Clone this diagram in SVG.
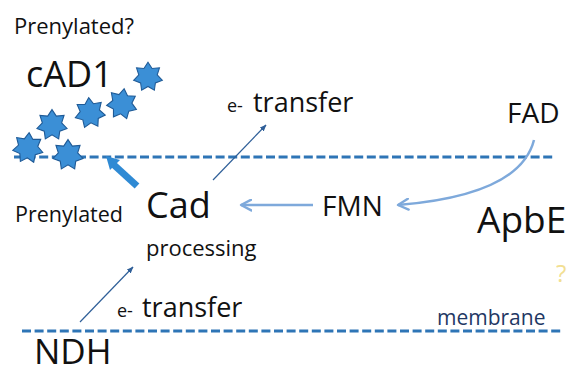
<svg xmlns="http://www.w3.org/2000/svg" width="568" height="365" viewBox="0 0 568 365">
<style>
text{font-family:"Open Sans","Noto Sans","Liberation Sans",sans-serif;fill:#111}
.mem{fill:none;stroke:#2e75b6;stroke-width:3;stroke-dasharray:9 3.6}
.star{fill:#3b8fd6;stroke:#1f5a96;stroke-width:1}
.thin{fill:none;stroke:#2f5f98;stroke-width:1.2}
.light{fill:none;stroke:#7ea9db;stroke-width:2.5}
</style>
<defs>
<path id="st" d="M0,-14 L3.91,-8.11 L10.95,-8.73 L8.77,-2 L13.65,3.12 L7.04,5.61 L6.07,12.61 L0,9 L-6.07,12.61 L-7.04,5.61 L-13.65,3.12 L-8.77,-2 L-10.95,-8.73 L-3.91,-8.11 Z"/>
<marker id="ah" viewBox="0 0 10 10" refX="9" refY="5" markerWidth="7" markerHeight="7" orient="auto" markerUnits="userSpaceOnUse">
<path d="M0,1 L10,5 L0,9 Z" fill="#2f5f98"/>
</marker>
<marker id="oh" viewBox="0 0 12 12" refX="10.5" refY="6" markerWidth="13" markerHeight="13" orient="auto" markerUnits="userSpaceOnUse">
<path d="M1,1 L10.5,6 L1,11" fill="none" stroke="#7ea9db" stroke-width="2.2" stroke-linecap="round" stroke-linejoin="round"/>
</marker>
</defs>
<rect width="568" height="365" fill="#fff"/>
<g id="membranes">
<line class="mem" x1="14" y1="157" x2="554" y2="157"/>
<line class="mem" x1="22" y1="331" x2="562" y2="331"/>
</g>
<g id="prenylated-q"><text x="14" y="34" font-size="22">Prenylated?</text></g>
<g id="cAD1">
<text x="26" y="87" font-size="36">cAD1</text>
<use href="#st" class="star" transform="translate(148,77) scale(1.05)"/>
<use href="#st" class="star" transform="translate(122,104) rotate(8) scale(1.1)"/>
<use href="#st" class="star" transform="translate(90,113) rotate(-5) scale(1.1)"/>
<use href="#st" class="star" transform="translate(52,125) scale(1.1)"/>
<use href="#st" class="star" transform="translate(28,148) rotate(4) scale(1.1)"/>
<use href="#st" class="star" transform="translate(68,155) scale(1.1)"/>
</g>
<g id="prenylated"><text x="15" y="222" font-size="21.5">Prenylated</text></g>
<g id="cad"><text x="146" y="218" font-size="36">Cad</text><text x="146" y="256" font-size="22">processing</text></g>
<g id="fmn"><text x="322" y="216" font-size="28">FMN</text></g>
<g id="fad"><text x="507" y="123" font-size="28">FAD</text></g>
<g id="apbe"><text x="477" y="233" font-size="37">ApbE</text></g>
<g id="ndh"><text x="34" y="364" font-size="35">NDH</text></g>
<g id="etransfer-top"><text x="227" y="112"><tspan font-size="18">e-</tspan><tspan x="253" font-size="27">transfer</tspan></text></g>
<g id="etransfer-bottom"><text x="117" y="317"><tspan font-size="18">e-</tspan><tspan x="142" font-size="27">transfer</tspan></text></g>
<g id="membrane-label"><text x="437" y="325" font-size="21" style="fill:#1f3864">membrane</text></g>
<g id="question"><text x="556" y="282" font-size="24" style="fill:#f0d878" opacity="0.8">?</text></g>
<g id="connectors">
<path class="thin" d="M213,180 L266,125" marker-end="url(#ah)"/>
<path class="thin" d="M80,322 L133,267" marker-end="url(#ah)"/>
<path class="light" d="M313,205 L241,205" marker-end="url(#oh)"/>
<path class="light" d="M534,140 Q520,195 398,205" marker-end="url(#oh)"/>
<g id="thick-arrow">
<line x1="137" y1="186" x2="114" y2="165" stroke="#2f8ad4" stroke-width="7"/>
<path d="M106,156 L120,160 L110,170 Z" fill="#2f8ad4"/>
</g>
</g>
</svg>
